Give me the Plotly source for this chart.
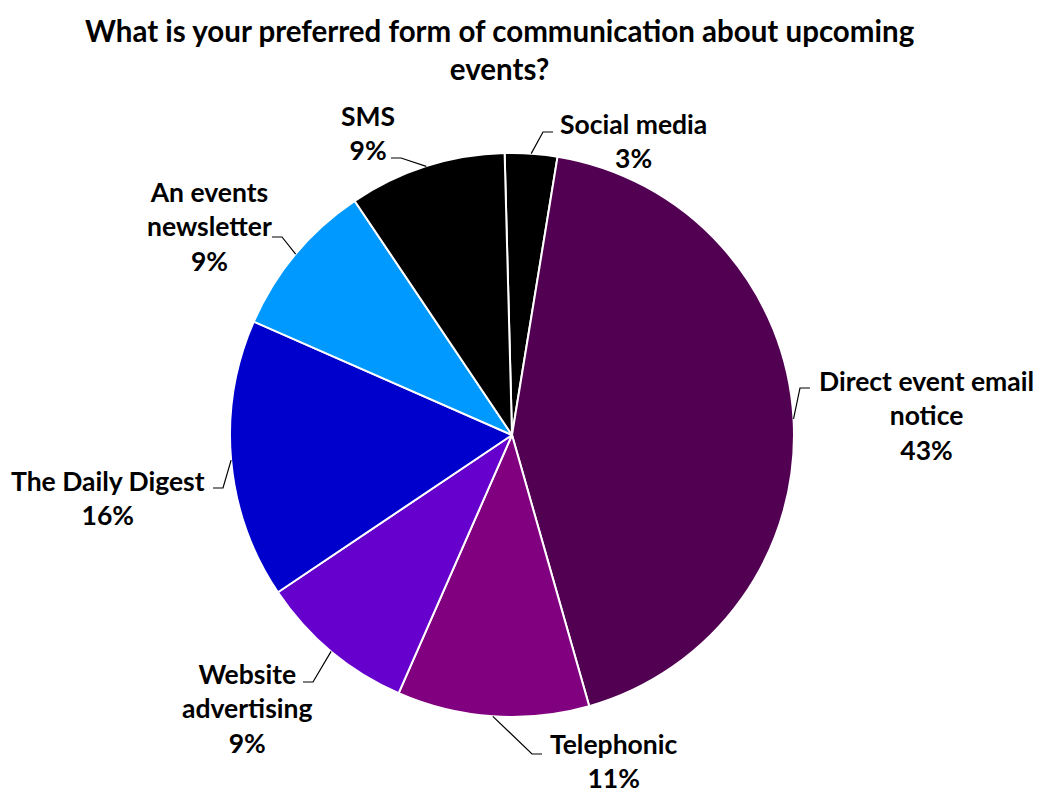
import math
import plotly.graph_objects as go

# Survey results (percent of respondents), clockwise from 12 o'clock
categories = ["Social media", "Direct event email notice", "Telephonic",
              "Website advertising", "The Daily Digest", "An events newsletter", "SMS"]
shares = [3, 43, 11, 9, 16, 9, 9]
label_text = ["Social media", "Direct event email<br>notice", "Telephonic",
              "Website<br>advertising", "The Daily Digest", "An events<br>newsletter", "SMS"]
colors = ["#000000", "#520052", "#800080", "#6600CC", "#0000CC", "#0099FF", "#000000"]

W, H = 1046, 794
CX, CY, R = 512, 435, 282
ROTATION = -1.5
FONT = "Lato"

# label block centres and leader attach points (pixels), plus elbow direction
label_centres = [(633, 141), (926, 415), (613, 761), (247, 708), (108, 498), (209, 227), (368, 133)]
attach_points = [(553, 132), (810, 388), (542, 754), (303, 682), (213, 488), (272, 237), (391, 158)]
elbow_dir = [-1, -1, -1, 1, 1, 1, 1]
ELBOW = 10


def px(x):
    return x / W


def py(y):
    return 1 - y / H


fig = go.Figure(go.Pie(
    labels=categories,
    values=shares,
    sort=False,
    direction="clockwise",
    rotation=ROTATION,
    textinfo="none",
    hoverinfo="none",
    marker=dict(colors=colors, line=dict(color="white", width=2)),
    domain=dict(x=[px(CX - R), px(CX + R)], y=[py(CY + R), py(CY - R)]),
    showlegend=False,
))

total = sum(shares)
annotations = []
shapes = []
cum = 0
for i, v in enumerate(shares):
    mid = (cum + v / 2) / total * 360 + ROTATION
    cum += v
    a = math.radians(mid)
    sx, sy = CX + R * math.sin(a), CY - R * math.cos(a)
    ax, ay = attach_points[i]
    ex = ax + elbow_dir[i] * ELBOW
    shapes.append(dict(
        type="path", xref="paper", yref="paper",
        path=f"M {px(sx)} {py(sy)} L {px(ex)} {py(ay)} L {px(ax)} {py(ay)}",
        line=dict(color="black", width=1.2),
    ))
    tx, ty = label_centres[i]
    annotations.append(dict(
        x=px(tx), y=py(ty), xref="paper", yref="paper",
        text=f"<b>{label_text[i]}<br>{round(v / total * 100)}%</b>",
        showarrow=False, xanchor="center", yanchor="middle", align="center",
        font=dict(family=FONT, size=26.5, color="black"),
    ))

annotations.append(dict(
    x=px(500), y=py(49), xref="paper", yref="paper",
    text="<b>What is your preferred form of communication about upcoming<br>events?</b>",
    showarrow=False, xanchor="center", yanchor="middle", align="center",
    font=dict(family=FONT, size=29.5, color="black"),
))

fig.update_layout(
    width=W, height=H,
    margin=dict(l=0, r=0, t=0, b=0),
    paper_bgcolor="white", plot_bgcolor="white",
    annotations=annotations, shapes=shapes,
)

fig.write_html("out.html")
